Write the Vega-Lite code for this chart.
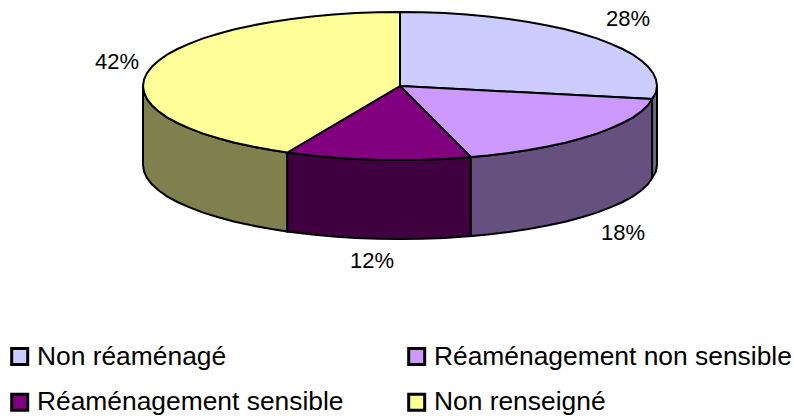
{
"$schema":"https://vega.github.io/schema/vega-lite/v6.json",
"width":794,"height":416,"padding":0,"autosize":{"type":"fit","contains":"padding"},
"background":"white","view":{"stroke":null},
"projection":{"type":"identity","scale":1,"translate":[0,0]},
"layer":[
{"data":{"values":[
{"type":"Feature","properties":{"wall":"Non renseigné"},"geometry":{"type":"Polygon","coordinates":[[[143,86],[144,92.4],[146.9,98.8],[151.8,105.2],[158.5,111.3],[167,117.3],[177.4,123],[189.6,128.4],[203.1,133.6],[218.3,138.3],[234.8,142.7],[252.6,146.6],[271.5,150.1],[287.3,152.5],[287.3,231.5],[271.5,229.1],[252.6,225.6],[234.8,221.7],[218.3,217.3],[203.1,212.6],[189.6,207.4],[177.4,202],[167,196.3],[158.5,190.3],[151.8,184.2],[146.9,177.8],[144,171.4],[143,165],[143,86]]]}},
{"type":"Feature","properties":{"wall":"Réaménagement sensible"},"geometry":{"type":"Polygon","coordinates":[[[287.3,152.5],[312.1,155.5],[333.5,157.5],[355.4,158.9],[377.6,159.7],[400,160],[422.4,159.7],[444.6,158.9],[470.8,157.1],[470.8,236.1],[444.6,237.9],[422.4,238.7],[400,239],[377.6,238.7],[355.4,237.9],[333.5,236.5],[312.1,234.5],[287.3,231.5],[287.3,152.5]]]}},
{"type":"Feature","properties":{"wall":"Réaménagement non sensible"},"geometry":{"type":"Polygon","coordinates":[[[470.8,157.1],[487.9,155.5],[508.6,153.1],[528.5,150.1],[547.4,146.6],[565.2,142.7],[581.7,138.3],[596.9,133.6],[610.4,128.4],[622.6,123],[633,117.3],[641.5,111.3],[648,105.2],[652,99],[652,178],[648,184.2],[641.5,190.3],[633,196.3],[622.6,202],[610.4,207.4],[596.9,212.6],[581.7,217.3],[565.2,221.7],[547.4,225.6],[528.5,229.1],[508.6,232.1],[487.9,234.5],[470.8,236.1],[470.8,157.1]]]}},
{"type":"Feature","properties":{"wall":"Non réaménagé"},"geometry":{"type":"Polygon","coordinates":[[[652,99],[656,92.4],[657,86],[657,165],[656,171.4],[652,178],[652,99]]]}}
]},
"mark":{"type":"geoshape","stroke":"black","strokeWidth":2},
"encoding":{"color":{"field":"properties.wall","type":"nominal","legend":null,
"scale":{"domain":["Non réaménagé","Réaménagement non sensible","Réaménagement sensible","Non renseigné"],"range":["#666680","#66507F","#400040","#80804F"]}}}},
{"data":{"values":[
{"type":"Feature","properties":{"category":"Non réaménagé","share":28},"geometry":{"type":"Polygon","coordinates":[[[400,86],[400,12],[422.4,12.3],[444.6,13.1],[466.5,14.5],[487.9,16.5],[508.6,18.9],[528.5,21.9],[547.4,25.4],[565.2,29.3],[581.7,33.7],[596.9,38.4],[610.4,43.6],[622.6,49],[633,54.7],[641.5,60.7],[648.2,66.8],[653.1,73.2],[656,79.6],[657,86],[656,92.4],[652,99],[400,86]]]}},
{"type":"Feature","properties":{"category":"Réaménagement non sensible","share":18},"geometry":{"type":"Polygon","coordinates":[[[400,86],[652,99],[648,105.2],[641.5,111.3],[633,117.3],[622.6,123],[610.4,128.4],[596.9,133.6],[581.7,138.3],[565.2,142.7],[547.4,146.6],[528.5,150.1],[508.6,153.1],[487.9,155.5],[470.8,157.1],[400,86]]]}},
{"type":"Feature","properties":{"category":"Réaménagement sensible","share":12},"geometry":{"type":"Polygon","coordinates":[[[400,86],[470.8,157.1],[444.6,158.9],[422.4,159.7],[400,160],[377.6,159.7],[355.4,158.9],[333.5,157.5],[312.1,155.5],[287.3,152.5],[400,86]]]}},
{"type":"Feature","properties":{"category":"Non renseigné","share":42},"geometry":{"type":"Polygon","coordinates":[[[400,86],[287.3,152.5],[271.5,150.1],[252.6,146.6],[234.8,142.7],[218.3,138.3],[203.1,133.6],[189.6,128.4],[177.4,123],[167,117.3],[158.5,111.3],[151.8,105.2],[146.9,98.8],[144,92.4],[143,86],[144,79.6],[146.9,73.2],[151.8,66.8],[158.5,60.7],[167,54.7],[177.4,49],[189.6,43.6],[203.1,38.4],[218.3,33.7],[234.8,29.3],[252.6,25.4],[271.5,21.9],[291.4,18.9],[312.1,16.5],[333.5,14.5],[355.4,13.1],[377.6,12.3],[400,12],[400,86]]]}}
]},
"mark":{"type":"geoshape","stroke":"black","strokeWidth":2},
"encoding":{"color":{"field":"properties.category","type":"nominal",
"scale":{"domain":["Non réaménagé","Réaménagement sensible","Réaménagement non sensible","Non renseigné"],"range":["#CCCCFF","#800080","#CC99FF","#FFFF99"]},
"legend":{"title":null,"orient":"none","legendX":6.5,"legendY":343,"columns":2,"symbolType":"square","symbolSize":256,"symbolStrokeColor":"black","symbolStrokeWidth":3,"symbolOpacity":1,"labelFont":"Liberation Sans","labelFontSize":26.4,"labelColor":"#000000","labelLimit":500,"labelOffset":4,"rowPadding":17,"columnPadding":58,"padding":0,"symbolOffset":0}}}},
{"data":{"values":[
{"label":"28%","lon":628,"lat":19},
{"label":"18%","lon":623,"lat":233},
{"label":"12%","lon":372,"lat":261},
{"label":"42%","lon":117,"lat":62}
]},
"mark":{"type":"text","font":"Liberation Sans","fontSize":22,"align":"center","baseline":"middle","color":"black"},
"encoding":{"longitude":{"field":"lon","type":"quantitative"},"latitude":{"field":"lat","type":"quantitative"},"text":{"field":"label"}}}
],
"resolve":{"scale":{"color":"independent"}}
}
